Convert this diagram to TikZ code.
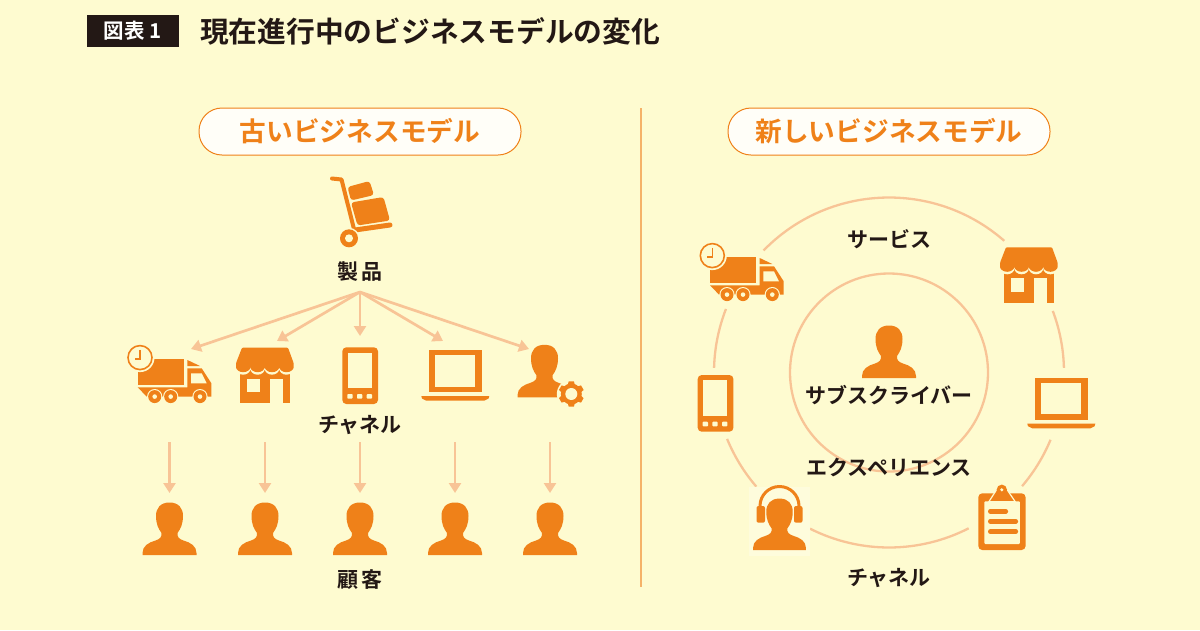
\documentclass[tikz,border=0pt]{standalone}
\usepackage{fontspec}
\usepackage{xcolor}
\usetikzlibrary{positioning,calc,arrows.meta}
\newfontfamily\cjk{Noto Sans CJK JP}[BoldFont={Noto Sans CJK JP Bold}]
\definecolor{BizOrange}{RGB}{239,129,25}
\definecolor{BizLight}{RGB}{248,196,150}
\definecolor{BizRule}{RGB}{245,178,104}
\definecolor{BizPaper}{RGB}{254,251,208}
\definecolor{BizInk}{RGB}{35,24,21}

\begin{document}
\begin{tikzpicture}[x=1pt,y=-1pt]
	\tikzset{
		ico/.style={fill=BizOrange, draw=none},
		hole/.style={fill=BizPaper, draw=none},
		arr/.style={draw=BizLight, line width=2.7pt, -{Triangle[length=10pt,width=12pt]}},
		ring/.style={draw=BizLight, line width=2.3pt},
		lbl/.style={font=\cjk\bfseries\fontsize{21}{24}\selectfont, text=BizInk, inner sep=0pt},
		pill/.style={draw=BizOrange, fill=white!85!BizPaper, line width=1pt, rounded corners=23pt, minimum width=322pt,
			minimum height=47pt, inner sep=0pt, text=BizOrange, font=\cjk\bfseries\fontsize{26.7}{30}\selectfont},
		pics/person/.style={code={
			\fill[ico] (-27,0) -- (-27,-2) .. controls (-27,-9) and (-21,-12.5) .. (-14,-14.5)
				.. controls (-9.5,-16) and (-7.5,-18) .. (-8,-22) .. controls (-11,-26) and (-13.5,-31) .. (-13.5,-39)
				.. controls (-13.5,-47) and (-9,-52.5) .. (0,-52.5) .. controls (9,-52.5) and (13.5,-47) .. (13.5,-39)
				.. controls (13.5,-31) and (11,-26) .. (8,-22) .. controls (7.5,-18) and (9.5,-16) .. (14,-14.5)
				.. controls (21,-12.5) and (27,-9) .. (27,-2) -- (27,0) -- cycle;
		}},
		pics/truck/.style={code={
			\fill[ico] (0,0) rectangle (46.3,25.7);
			\fill[ico] (49.7,0.7) -- (62.3,6.7) -- (49.7,6.7) -- cycle;
			\fill[ico] (49.7,9) -- (64,9) -- (73.7,24) -- (73.7,37.3) -- (9,37.3) -- (0,28) -- (49.7,28) -- cycle;
			\fill[hole] (53.3,14) -- (64,14) -- (69,24) -- (53.3,24) -- cycle;
			\foreach \wx in {17,33,62.3} {
				\fill[hole] (\wx,37.3) circle[radius=7.6];
				\fill[ico] (\wx,37.3) circle[radius=6.5];
				\fill[hole] (\wx,37.3) circle[radius=2.3];
			}
			\fill[hole] (2.3,-1.7) circle[radius=14.5];
			\draw[BizOrange, line width=1.6pt, fill=BizPaper] (2.3,-1.7) circle[radius=12];
			\draw[BizOrange, line width=1.4pt] (2.3,-9.5) -- (2.3,-0.5) -- (-3,-0.5);
		}},
		pics/shop/.style={code={
			\fill[ico] (4,22) rectangle (54,55.3);
			\fill[hole] (11,31) rectangle (24.3,44.3);
			\fill[hole] (34,31) rectangle (46.7,55.3);
			\fill[hole] (-1,19) -- (-1,21) -- (0,21)
				arc[start angle=180,end angle=0,x radius=7.2,y radius=6]
				arc[start angle=180,end angle=0,x radius=7.2,y radius=6]
				arc[start angle=180,end angle=0,x radius=7.2,y radius=6]
				arc[start angle=180,end angle=0,x radius=7.25,y radius=6] -- (58.7,21) -- (58.7,19) -- cycle;
			\fill[ico, rounded corners=1pt] (0,15.5) -- (6,0) -- (52,0) -- (57.7,15.5) -- (57.7,18.5)
				arc[start angle=0,end angle=180,x radius=7.25,y radius=6]
				arc[start angle=0,end angle=180,x radius=7.2,y radius=6]
				arc[start angle=0,end angle=180,x radius=7.2,y radius=6]
				arc[start angle=0,end angle=180,x radius=7.2,y radius=6] -- cycle;
		}},
		pics/phone/.style={code={
			\fill[ico, rounded corners=4pt] (0,0) rectangle (35.7,56.7);
			\fill[hole] (5.7,5.3) rectangle (29.7,41);
			\foreach \bx in {5,14.7,24.4} {
				\fill[hole, rounded corners=0.8pt] (\bx,46.7) rectangle (\bx+5.3,51.3);
			}
		}},
		pics/laptop/.style={code={
			\fill[ico] (7.3,0) rectangle (60.7,42);
			\fill[hole] (14,5.3) rectangle (54,36.7);
			\fill[ico] (0,46) -- (68,46) -- (67.3,48.5) -- (63,50.7) -- (5,50.7) -- (0.7,48.5) -- cycle;
		}},
		pics/gear/.style={code={
			\foreach \a in {30,90,...,330} {
				\fill[ico, rotate=\a] (8,-3.8) -- (12.7,-2.6) -- (12.7,2.6) -- (8,3.8) -- cycle;
			}
			\fill[ico] (0,0) circle[radius=10.5];
			\fill[hole] (0,0) circle[radius=6];
		}},
		pics/clipboard/.style={code={
			\fill[ico, rounded corners=4pt] (0,0) rectangle (47.3,56.7);
			\fill[hole, rounded corners=1pt] (6,8) rectangle (41.5,50.7);
			\fill[ico, draw=BizPaper, line width=1.2pt] (10.5,8.5) -- (37,8.5) -- (27.5,-5.5) -- (19.5,-5.5) -- cycle;
			\fill[ico] (23.5,-3.5) circle[radius=5.2];
			\fill[hole] (23.5,-3.5) circle[radius=1.7];
			\foreach \ly/\lx in {18/27.5,28/37.5,38.3/37.5} {
				\draw[BizOrange, line width=4.6pt, line cap=round] (12,\ly) -- (\lx,\ly);
			}
		}},
		pics/cart/.style={code={
			\draw[BizOrange, line width=4pt, line cap=round, line join=round] (2,0.5) -- (11.5,1.5) -- (25,55);
			\draw[BizOrange, line width=5pt, line cap=round] (25,52) -- (60,47);
			\fill[ico, rounded corners=3pt] (21,24.5) -- (53.5,19) -- (60,42.5) -- (27.5,47.5) -- cycle;
			\fill[ico, rounded corners=3pt] (17.5,9) -- (39.5,3) -- (44,17) -- (21,22.5) -- cycle;
			\fill[hole] (19,60.3) circle[radius=10.5];
			\fill[ico] (19,60.3) circle[radius=9];
			\fill[hole] (19,60.3) circle[radius=4];
		}},
		pics/headset/.style={code={
			\draw[BizOrange, line width=3pt] (-19.5,20) arc[start angle=180,end angle=360,radius=19.5];
			\fill[ico, rounded corners=2pt] (-23,20) rectangle (-14.5,36.7);
			\fill[ico, rounded corners=2pt] (14.5,20) rectangle (23,36.7);
		}}
	}
	\fill[BizPaper] (0,0) rectangle (1200,630);
	\useasboundingbox (0,0) rectangle (1200,630);

	% heading
	\node[fill=BizInk, text=white, minimum width=92pt, minimum height=32pt, inner sep=0pt,
		font=\cjk\bfseries\fontsize{20.5}{22}\selectfont] (figno) at (133,31) {図表\hspace{5pt}1};
	\node[anchor=west, inner sep=0pt, text=BizInk, font=\cjk\bfseries\fontsize{28.75}{32}\selectfont]
		(maintitle) at (200,31) {現在進行中のビジネスモデルの変化};
	\coordinate (splittop) at (641,108);
	\coordinate (splitbot) at (641,587);
	\draw[draw=BizRule, line width=2pt] (splittop)--(splitbot);

	% left side
	\node[pill] (oldhead) at (360,131.5) {古いビジネスモデル};
	\pic (cart) at (330,178) {cart};
	\node[lbl] (prod) at (360,272) {製\hspace{3pt}品};
	\coordinate (hub) at (360,292);
	\foreach \tx/\ty [count=\i] in {191/349,277/341,360/336,443/341,529/349} {
		\coordinate (tip\i) at (\tx,\ty);
		\draw[arr] (hub)--(tip\i);
	}
	\pic (ltruck) at (137.7,359.3) {truck};
	\pic (lshop) at (236,347.7) {shop};
	\pic (lphone) at (342.3,347.3) {phone};
	\pic (llaptop) at (421.3,350) {laptop};
	\pic (lperson) at (544.5,397.3) {person};
	\fill[hole] (571.3,394) circle[radius=14.5];
	\pic (lgear) at (571.3,394) {gear};
	\node[lbl] (chan) at (360,425) {チャネル};
	\foreach \x [count=\i] in {169.5,265,360,455,550} {
		\coordinate (from\i) at (\x,442);
		\coordinate (to\i) at (\x,493);
		\draw[arr] (from\i)--(to\i);
		\pic (cust\i) at (\x,555) {person};
	}
	\node[lbl] (client) at (360,580) {顧\hspace{3pt}客};

	% right side
	\node[pill] (newhead) at (889,131.5) {新しいビジネスモデル};
	\coordinate (mid) at (889,372.5);
	\draw[ring] (mid) circle[radius=99];
	\foreach \sa/\ea in {224.2/311.2,339.4/358.5,22.6/40.5,62.9/116.8,139.3/157.7,181.5/201.3} {
		\draw[ring] (mid) ++(\sa:175) arc[start angle=\sa,end angle=\ea,radius=175];
	}
	\pic (rtruck) at (710,257.3) {truck};
	\pic (rshop) at (1000,247.3) {shop};
	\pic (rphone) at (697.7,375) {phone};
	\pic (rlaptop) at (1027.3,377.7) {laptop};
	\pic (rclip) at (978.3,493.3) {clipboard};
	\fill[white!25!BizPaper] (749,487) rectangle (810,556);
	\pic[scale=0.98] (hsperson) at (779.5,550) {person};
	\pic (hsband) at (779.5,486) {headset};
	\pic (subper) at (889,378) {person};
	\node[lbl] (serv) at (889,239) {サービス};
	\node[lbl] (subs) at (889,395) {サブスクライバー};
	\node[lbl] (expe) at (889,467) {エクスペリエンス};
	\node[lbl] (rchan) at (889,578) {チャネル};
\end{tikzpicture}
\end{document}
